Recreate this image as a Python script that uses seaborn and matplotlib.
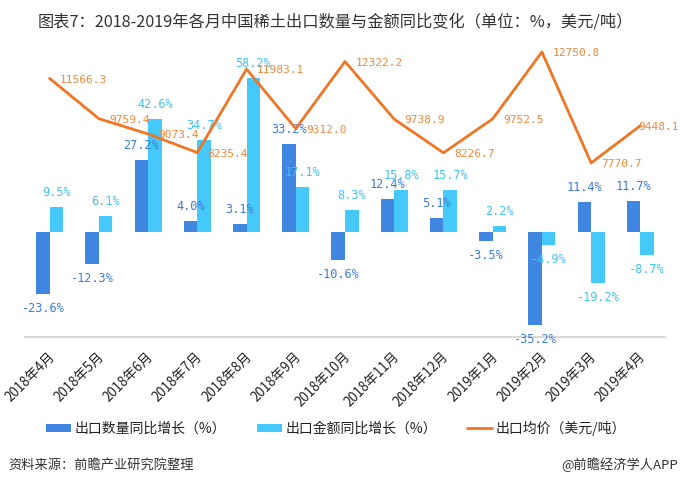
import numpy as np
import pandas as pd
import matplotlib
matplotlib.use("Agg")
import matplotlib.pyplot as plt
import matplotlib.transforms as mtransforms
import seaborn as sns
from matplotlib.patches import Patch
from matplotlib.lines import Line2D

# ==========================================
# 데이터
# ==========================================
months = ["2018年4月", "2018年5月", "2018年6月", "2018年7月", "2018年8月", "2018年9月",
          "2018年10月", "2018年11月", "2018年12月", "2019年1月", "2019年2月", "2019年3月",
          "2019年4月"]
qty_yoy = [-23.6, -12.3, 27.2, 4.0, 3.1, 33.2, -10.6, 12.4, 5.1, -3.5, -35.2, 11.4, 11.7]
amt_yoy = [9.5, 6.1, 42.6, 34.7, 58.2, 17.1, 8.3, 15.8, 15.7, 2.2, -4.9, -19.2, -8.7]
avg_price = [11566.3, 9759.4, 9073.4, 8235.4, 11983.1, 9312.0, 12322.2, 9738.9, 8226.7,
             9752.5, 12750.8, 7770.7, 9448.1]

name_qty = "出口数量同比增长（%）"
name_amt = "出口金额同比增长（%）"
name_price = "出口均价（美元/吨）"

C_QTY = "#3F86E0"
C_AMT = "#45C8FA"
C_LINE = "#EE7625"
C_QTY_TXT = "#3C7AD9"
C_AMT_TXT = "#3FC2F7"
C_LINE_TXT = "#F0873A"

sns.set_theme(style="white")
plt.rcParams['font.family'] = ['Noto Sans CJK SC', 'DejaVu Sans']

W, H = 680, 484
fig = plt.figure(figsize=(W / 100, H / 100), dpi=100)
fig.patch.set_facecolor("white")

# 축 위치 (픽셀 기준)
left_px, right_px, top_px, bottom_px = 25, 665, 40, 337
ax = fig.add_axes([left_px / W, 1 - bottom_px / H, (right_px - left_px) / W, (bottom_px - top_px) / H])

# --- 막대: 수량/금액 동기 대비 ---
bar_df = pd.DataFrame({
    "month": months * 2,
    "value": qty_yoy + amt_yoy,
    "series": [name_qty] * len(months) + [name_amt] * len(months),
})
sns.barplot(data=bar_df, x="month", y="value", hue="series", order=months,
            palette=[C_QTY, C_AMT], width=0.55, dodge=True, saturation=1,
            legend=False, ax=ax, edgecolor="none")
ax.set_xlim(-0.5, len(months) - 0.5)
ax.set_ylim(-39.8, 72.7)

bw = 0.55 / 2
for i, (q, a) in enumerate(zip(qty_yoy, amt_yoy)):
    for val, dx, col in [(q, -bw / 2, C_QTY_TXT), (a, bw / 2, C_AMT_TXT)]:
        off = 10.5 if val >= 0 else -10.5
        ax.annotate(f"{val:.1f}%", (i + dx, val), xytext=(0, off), textcoords="offset points",
                    ha="center", va="center", color=col, fontsize=8.6,
                    family=["DejaVu Sans Mono"])

# --- 선: 수출 평균 가격 ---
ax2 = ax.twinx()
line_df = pd.DataFrame({"x": np.arange(len(months)), "price": avg_price})
sns.lineplot(data=line_df, x="x", y="price", color=C_LINE, linewidth=2.0, ax=ax2)
ax2.set_ylim(-36, 13289)
for i, p in enumerate(avg_price):
    # 마지막 라벨은 잘리지 않도록 점에 더 가깝게
    dx = 7.5 if i < len(avg_price) - 1 else -1.5
    ax2.annotate(f"{p:.1f}", (i, p), xytext=(dx, -0.8), textcoords="offset points",
                 ha="left", va="center", color=C_LINE_TXT, fontsize=8,
                 family=["DejaVu Sans Mono"])

# 축 꾸미기
for a in (ax, ax2):
    for s in ["top", "left", "right"]:
        a.spines[s].set_visible(False)
    a.set_xlabel("")
    a.set_ylabel("")
    a.set_yticks([])
ax2.spines["bottom"].set_visible(False)
ax.spines["bottom"].set_color("#D9D9D9")
ax.spines["bottom"].set_linewidth(1.5)
ax.tick_params(axis="x", length=0, pad=9)
ax.set_xticks(range(len(months)))
ax.set_xticklabels(months, rotation=45, ha="right", va="top", rotation_mode="anchor",
                   fontsize=9.6, color="#222222")
shift = mtransforms.ScaledTranslation(-0.02, 0, fig.dpi_scale_trans)
for lbl in ax.get_xticklabels():
    lbl.set_transform(lbl.get_transform() + shift)

# 제목
fig.text(335 / W, 1 - 22 / H, "图表7：2018-2019年各月中国稀土出口数量与金额同比变化（单位：%，美元/吨）",
         ha="center", va="center", fontsize=11.7, color="#333333")

# 범례
handles = [Patch(facecolor=C_QTY, edgecolor="none", label=name_qty),
           Patch(facecolor=C_AMT, edgecolor="none", label=name_amt),
           Line2D([0], [0], color=C_LINE, linewidth=2.0, label=name_price)]
fig.legend(handles=handles, loc="center", bbox_to_anchor=(336 / W, 1 - 428 / H), ncol=3,
           frameon=False, fontsize=10, handlelength=1.8, handleheight=0.5,
           handletextpad=0.25, columnspacing=2.2, labelcolor="#222222")

# 출처
fig.text(8 / W, 1 - 465 / H, "资料来源：前瞻产业研究院整理", ha="left", va="center",
         fontsize=9.5, color="#333333", style="italic")
fig.text(678 / W, 1 - 465 / H, "@前瞻经济学人APP", ha="right", va="center",
         fontsize=9.5, color="#333333")

fig.savefig("out.png", dpi=100, facecolor="white")
